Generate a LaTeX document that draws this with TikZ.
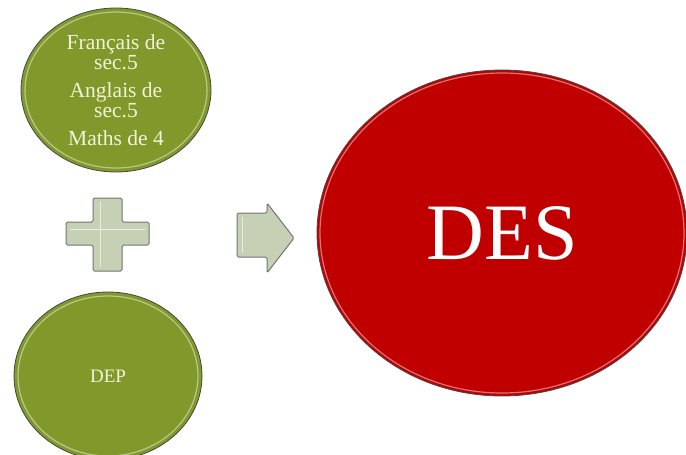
\documentclass[tikz,border=0pt]{standalone}
\usepackage{fontspec}
\setmainfont{Liberation Serif}
\usepackage{xcolor}
\usepackage{tikz}
\usetikzlibrary{shapes.geometric, positioning}
\definecolor{desred}{RGB}{192, 0, 0}
\definecolor{olivegreen}{RGB}{128, 153, 42}
\definecolor{sagefill}{RGB}{198, 208, 180}
\definecolor{creamtext}{RGB}{242, 242, 218}

\begin{document}
\begin{tikzpicture}[x=1pt, y=-1pt,
    bubble/.style={ellipse, draw=gray!55!black, line width=0.8pt, inner sep=0pt, align=center},
    rim/.style={draw=white, opacity=0.45, line width=1.2pt},
    sageshape/.style={fill=sagefill, draw=gray!90!black, line width=1pt, rounded corners=1.5pt}]
    \useasboundingbox (0,0) rectangle (686,455);

    % LEFT: the three subjects
    \node[bubble, fill=olivegreen, text=creamtext, minimum width=190pt, minimum height=164pt,
          font=\fontsize{21.5}{17}\selectfont] (subjects) at (116, 90)
        {Français de\\sec.5\\[11pt]Anglais de\\sec.5\\[11pt]Maths de 4};
    \draw[rim] (subjects.center) ellipse (91pt and 78pt);

    % Plus sign
    \draw[sageshape] (93,198) -- (122,198) -- (122,222) -- (149,222) -- (149,245) -- (122,245)
        -- (122,271) -- (93,271) -- (93,245) -- (66,245) -- (66,222) -- (93,222) -- cycle;
    \draw[white, opacity=0.6, line width=1pt] (100,202) -- (100,267);
    \draw[white, opacity=0.6, line width=1pt] (70,229) -- (145,229);

    % LEFT: the vocational diploma
    \node[bubble, fill=olivegreen, text=creamtext, minimum width=188pt, minimum height=168pt,
          font=\fontsize{19}{22}\selectfont] (dep) at (108, 376) {DEP};
    \draw[rim] (dep.center) ellipse (90pt and 80pt);

    % Arrow
    \draw[sageshape] (237,213) -- (267,213) -- (267,203) -- (294,238) -- (267,273)
        -- (267,257) -- (237,257) -- cycle;
    \draw[white, opacity=0.6, line width=1pt] (242,217) -- (242,253);

    % RIGHT: the result
    \node[bubble, fill=desred, text=white, minimum width=370pt, minimum height=326pt,
          font=\fontsize{80}{86}\selectfont] (des) at (502, 233) {DES};
    \draw[rim] (des.center) ellipse (182pt and 160pt);
\end{tikzpicture}
\end{document}
